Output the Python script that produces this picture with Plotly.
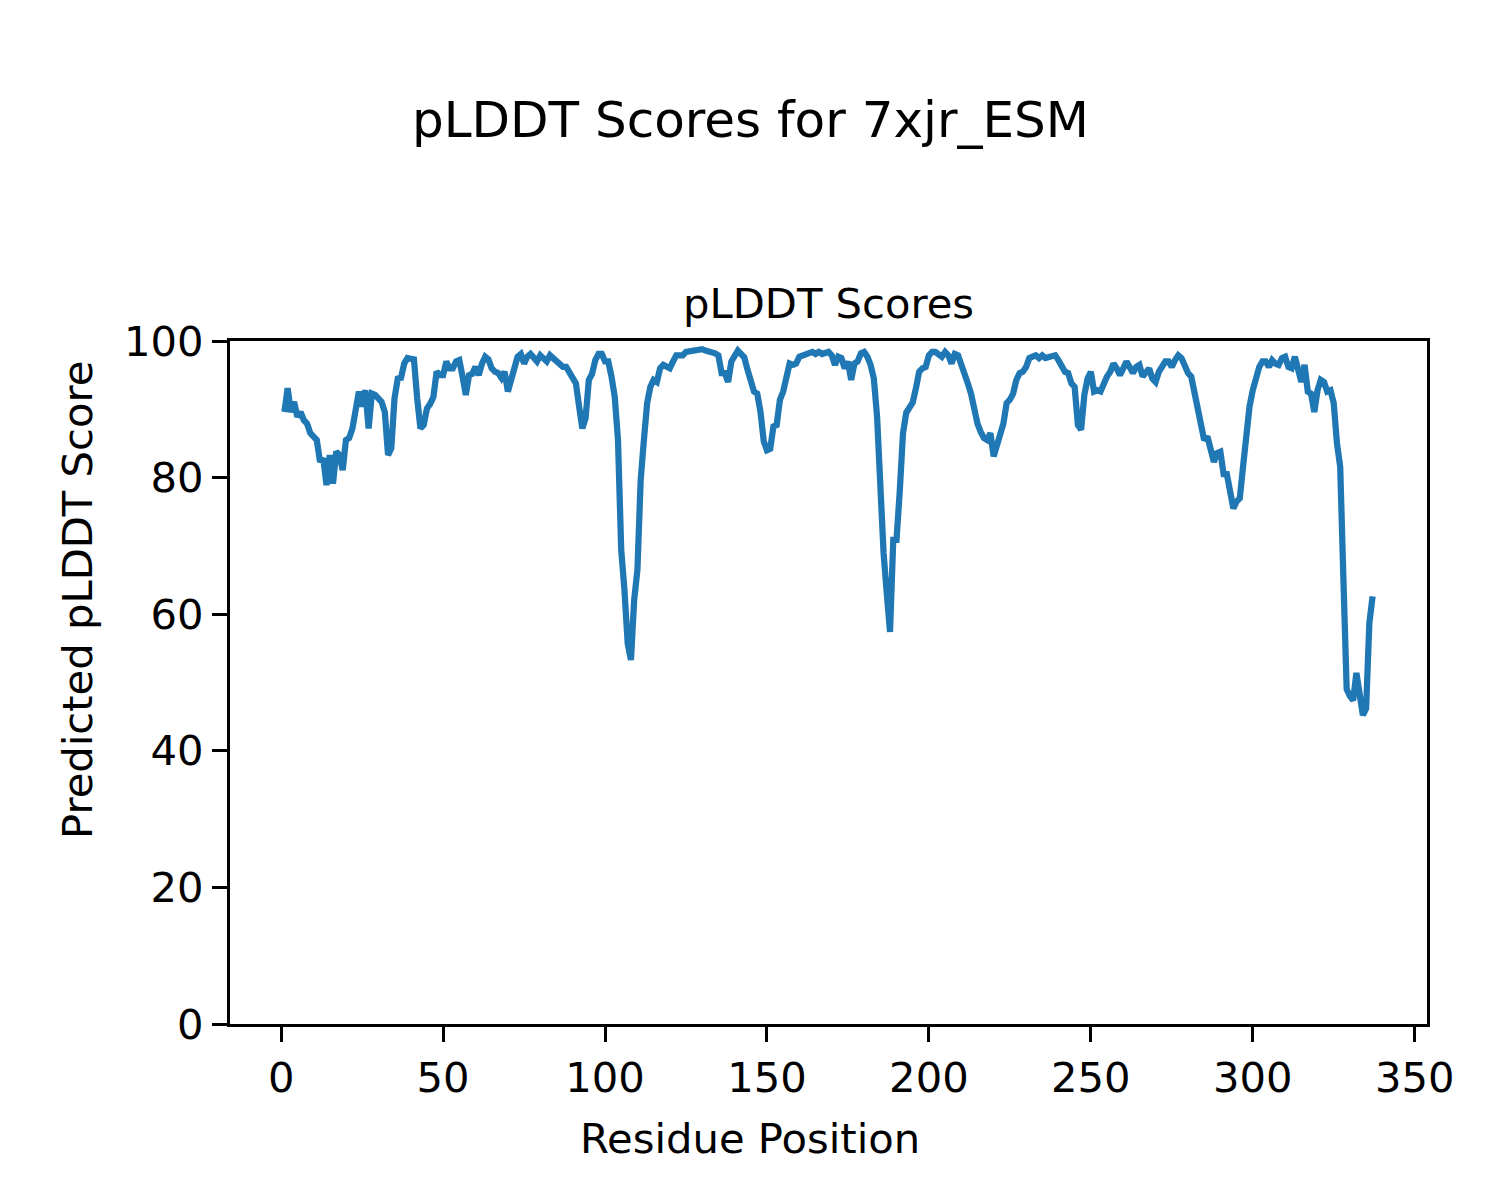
import plotly.graph_objects as go

# pLDDT scores per residue
scores = [
    89.6, 93.1, 89.6, 91.1, 88.9, 89.6, 88.4, 87.9, 86.5,
    85.8, 85.5, 82.3, 82.8, 78.9, 83.3, 79.1, 83.8, 83.3, 81.1,
    85.5, 85.8, 87.2, 90.4, 92.6, 90.4, 92.8, 87.2, 92.3, 92.1,
    91.6, 91.1, 89.6, 83.3, 84.3, 91.6, 94.5, 94.6, 96.7, 97.5,
    97.4, 97.3, 91.6, 87.2, 87.7, 90.1, 90.8, 91.8, 95.5, 95.0,
    95.0, 97.0, 96.0, 96.0, 97.0, 97.2, 94.8, 92.1, 95.0, 95.2,
    96.2, 95.0, 96.7, 97.7, 97.3, 96.0, 95.5, 95.3, 94.6, 95.5,
    92.6, 94.0, 96.0, 97.7, 98.1, 96.7, 97.7, 98.1, 97.5, 97.0,
    97.9, 97.5, 97.0, 97.9, 97.4, 97.0, 96.6, 96.2, 96.2, 95.5,
    94.8, 93.8, 90.4, 87.2, 88.7, 94.3, 95.2, 97.2, 98.1, 98.1,
    97.0, 97.0, 94.8, 91.8, 85.5, 69.4, 63.5, 55.7, 53.3, 62.1,
    66.5, 79.6, 85.5, 90.9, 93.3, 94.3, 94.0, 96.0, 96.5, 96.2,
    96.0, 97.0, 97.9, 97.9, 97.9, 98.4, 98.5, 98.6, 98.8, 98.9,
    98.8, 98.6, 98.5, 98.4, 98.2, 97.9, 95.3, 95.3, 94.0, 97.0,
    97.8, 98.6, 98.1, 97.6, 95.8, 94.3, 92.6, 92.3, 89.6, 85.3,
    84.0, 84.2, 87.5, 87.7, 91.4, 92.6, 94.5, 96.7, 96.5, 96.7,
    97.7, 97.9, 97.9, 98.1, 98.4, 98.1, 98.4, 98.1, 98.2, 98.4,
    97.9, 96.5, 97.7, 97.5, 96.0, 97.0, 94.3, 96.7, 97.0, 98.2,
    98.4, 97.7, 96.5, 94.5, 88.9, 77.0, 69.0, 63.0, 57.4, 70.9,
    70.9, 78.0, 86.5, 89.5, 90.3, 91.0, 93.1, 95.5, 96.0, 96.2,
    97.9, 98.4, 98.4, 98.1, 97.7, 98.4, 97.9, 96.7, 98.1, 97.9,
    96.7, 95.3, 93.8, 92.3, 89.6, 87.9, 86.7, 85.8, 85.5, 86.5,
    83.1, 84.5, 86.0, 87.9, 90.9, 91.4, 92.3, 94.3, 95.3, 95.5,
    96.2, 97.5, 97.7, 97.9, 97.5, 97.9, 97.5, 97.7, 97.9, 97.9,
    97.2, 96.2, 95.5, 95.3, 93.8, 93.3, 87.7, 87.0, 92.1, 94.5,
    95.5, 92.6, 92.8, 92.6, 93.8, 94.8, 95.5, 96.7, 96.0, 95.0,
    96.0, 97.0, 96.2, 95.3, 96.2, 96.5, 94.8, 95.5, 96.0, 94.5,
    94.0, 95.5, 96.5, 97.0, 97.0, 96.2, 97.2, 97.9, 97.5, 96.2,
    95.3, 94.8, 92.3, 89.6, 87.0, 85.5, 86.0, 83.6, 82.3, 83.6,
    83.8, 80.5, 80.5, 78.0, 75.5, 76.5, 77.0, 81.6, 87.0, 90.4,
    92.8, 94.5, 96.2, 97.0, 97.0, 96.2, 97.2, 96.7, 96.5, 97.5,
    97.7, 96.2, 96.0, 97.7, 96.2, 94.0, 96.5, 92.6, 92.3, 89.6,
    92.8, 94.3, 94.0, 92.6, 92.8, 90.9, 85.0, 81.6, 65.0, 49.0,
    48.0, 47.4, 51.4, 48.5, 45.2, 46.2, 58.7, 62.6,
]
positions = list(range(1, len(scores) + 1))

x_ticks = [0, 50, 100, 150, 200, 250, 300, 350]
y_ticks = [0, 20, 40, 60, 80, 100]

suptitle = "pLDDT Scores for 7xjr_ESM"
ax_title = "pLDDT Scores"
x_label = "Residue Position"
y_label = "Predicted pLDDT Score"

FONT = "DejaVu Sans"
# page body has an 8px margin; size the figure to compensate
OFF = 8
W, H = 1500 - OFF, 1200 - OFF
# target plot area on screen: x 230..1427, y 341..1024
SX0, SX1, SY0, SY1 = 230, 1427, 341, 1024
L = SX0 - OFF
T = SY0 - OFF
R = (OFF + W) - SX1
B = (OFF + H) - SY1
pw, ph = SX1 - SX0, SY1 - SY0


def px_x(px):
    return (px - SX0) / pw


def px_y(py):
    return (SY1 - py) / ph


n = len(scores)
pad = 0.05 * (n - 1)

fig = go.Figure()
fig.add_trace(go.Scatter(
    x=positions, y=scores, mode="lines",
    line=dict(color="#1f77b4", width=6.25),
    showlegend=False,
))

axis_common = dict(
    showgrid=False, zeroline=False,
    showline=True, linecolor="black", linewidth=3.3, mirror=True,
    ticks="outside", ticklen=15, tickwidth=3.3, tickcolor="black",
    tickfont=dict(family=FONT, size=41.7, color="black"),
)

fig.update_xaxes(range=[1 - pad, n + pad], tickvals=x_ticks,
                 ticktext=[str(v) for v in x_ticks], **axis_common)
fig.update_yaxes(range=[0, 100], tickvals=y_ticks,
                 ticktext=[str(v) for v in y_ticks], **axis_common)

annotations = [
    dict(text=suptitle, x=px_x(750), y=px_y(120), xref="paper", yref="paper",
         showarrow=False, xanchor="center", yanchor="middle",
         font=dict(family=FONT, size=50, color="black")),
    dict(text=ax_title, x=0.5, y=px_y(303), xref="paper", yref="paper",
         showarrow=False, xanchor="center", yanchor="middle",
         font=dict(family=FONT, size=41.7, color="black")),
    dict(text=x_label, x=px_x(750), y=px_y(1138), xref="paper", yref="paper",
         showarrow=False, xanchor="center", yanchor="middle",
         font=dict(family=FONT, size=41.7, color="black")),
    dict(text=y_label, x=px_x(77), y=px_y(600), xref="paper", yref="paper",
         showarrow=False, xanchor="center", yanchor="middle", textangle=-90,
         font=dict(family=FONT, size=41.7, color="black")),
]

fig.update_layout(
    width=W, height=H,
    margin=dict(l=L, r=R, t=T, b=B, pad=0),
    paper_bgcolor="white", plot_bgcolor="white",
    annotations=annotations,
    font=dict(family=FONT, color="black"),
)

fig.write_html("out.html")
